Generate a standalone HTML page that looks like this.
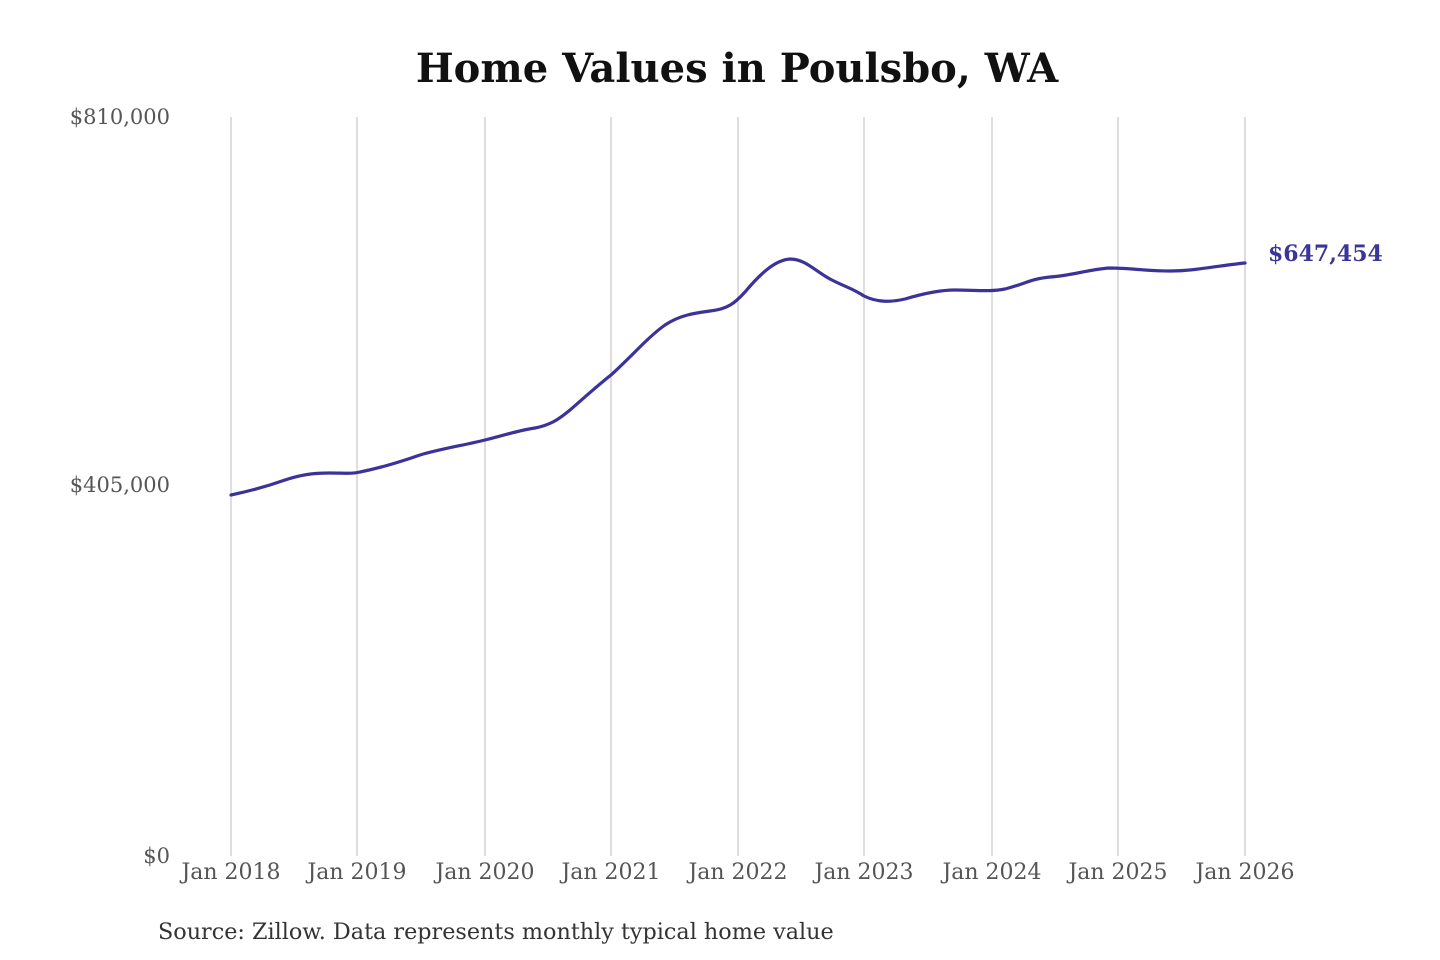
<!DOCTYPE html>
<html><head><meta charset="utf-8"><style>
html,body{margin:0;padding:0;background:#fff;}
svg{display:block;}
</style></head><body>
<svg width="1440" height="960" viewBox="0 0 1440 960" xmlns="http://www.w3.org/2000/svg" font-family="'DejaVu Serif','Liberation Serif',serif">
<rect width="1440" height="960" fill="#fff"/>
<text x="737" y="82" text-anchor="middle" font-size="40" font-weight="bold" fill="#111">Home Values in Poulsbo, WA</text>
<g stroke="#c8c8c8" stroke-width="1.2">
<line x1="231" y1="117" x2="231" y2="856"/>
<line x1="357" y1="117" x2="357" y2="856"/>
<line x1="485" y1="117" x2="485" y2="856"/>
<line x1="611" y1="117" x2="611" y2="856"/>
<line x1="738" y1="117" x2="738" y2="856"/>
<line x1="864" y1="117" x2="864" y2="856"/>
<line x1="992" y1="117" x2="992" y2="856"/>
<line x1="1118" y1="117" x2="1118" y2="856"/>
<line x1="1245" y1="117" x2="1245" y2="856"/>
</g>
<g font-size="21" fill="#555" text-anchor="end">
<text x="170" y="124">$810,000</text>
<text x="170" y="492">$405,000</text>
<text x="170" y="863">$0</text>
</g>
<g font-size="22" fill="#555" text-anchor="middle">
<text x="231" y="879">Jan 2018</text>
<text x="357" y="879">Jan 2019</text>
<text x="485" y="879">Jan 2020</text>
<text x="611" y="879">Jan 2021</text>
<text x="738" y="879">Jan 2022</text>
<text x="864" y="879">Jan 2023</text>
<text x="992" y="879">Jan 2024</text>
<text x="1118" y="879">Jan 2025</text>
<text x="1245" y="879">Jan 2026</text>
</g>
<path fill="none" stroke="#3b3399" stroke-width="3.2" stroke-linejoin="round" stroke-linecap="round"
d="M231,495 C250,491 268,486 285,480 C300,475 312,473 330,473 C345,473 352,474 360,472 C380,468 400,462 420,455 C440,449 465,445 485,440 C505,435 520,430 535,428 C550,425 558,420 570,410 C585,397 597,386 611,375 C630,358 648,337 665,325 C680,315 695,313 710,311 C728,309 735,303 745,292 C760,274 775,260 790,259 C805,259 815,271 830,279 C845,287 852,288 864,296 C878,303 892,302 905,299 C925,293 940,290 955,290 C975,290 990,292 1005,289 C1025,284 1030,279 1050,277 C1070,276 1090,269 1110,268 C1130,268 1145,271 1170,271 C1195,271 1215,266 1245,263"/>
<text x="1268" y="261" font-size="22" font-weight="bold" fill="#3a3596">$647,454</text>
<text x="158" y="939" font-size="22.3" fill="#333">Source: Zillow. Data represents monthly typical home value</text>
</svg>
</body></html>
